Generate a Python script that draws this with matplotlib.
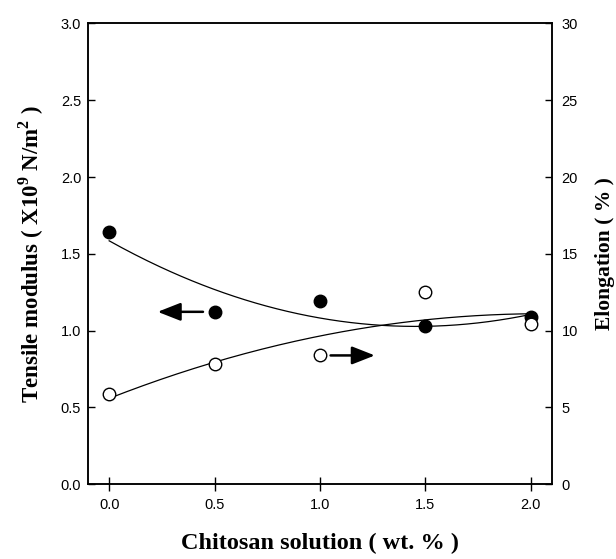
import numpy as np
import matplotlib
matplotlib.use("Agg")
import matplotlib.pyplot as plt

# chitosan concentration (wt. %)
chitosan = [0.0, 0.5, 1.0, 1.5, 2.0]
# tensile modulus, x10^9 N/m^2 (filled circles, left axis)
modulus = [1.64, 1.12, 1.19, 1.03, 1.086]
# elongation, % (open circles, right axis)
elongation = [5.86, 7.8, 8.4, 12.5, 10.4]

x_ticks = [0.0, 0.5, 1.0, 1.5, 2.0]
left_ticks = [0.0, 0.5, 1.0, 1.5, 2.0, 2.5, 3.0]
right_ticks = [0, 5, 10, 15, 20, 25, 30]

sans = "Liberation Sans"
serif = "Liberation Serif"
plt.rcParams["mathtext.fontset"] = "custom"
plt.rcParams["mathtext.bf"] = "Liberation Serif:bold"
plt.rcParams["mathtext.rm"] = "Liberation Serif:bold"

fig = plt.figure(figsize=(6.16, 5.59), dpi=100)
ax = fig.add_axes([0.143, 0.134, 0.753, 0.824])
ax2 = ax.twinx()

# quadratic trend lines
xs = np.linspace(0, 2, 200)
p_mod = np.polyfit(chitosan, modulus, 2)
p_elo = np.polyfit(chitosan, elongation, 2)
ax.plot(xs, np.polyval(p_mod, xs), color="black", lw=0.9)
ax2.plot(xs, np.polyval(p_elo, xs), color="black", lw=0.9)

ax.plot(chitosan, modulus, "o", color="black", ms=9, zorder=5)
ax2.plot(chitosan, elongation, "o", mfc="white", mec="black", mew=1.0, ms=9, zorder=5)

# arrows pointing to the axis each series belongs to
arrow = dict(arrowstyle="-|>,head_length=1.4,head_width=0.55", color="black", lw=1.8,
             shrinkA=0, shrinkB=0)
ax.annotate("", xy=(0.23, 1.122), xytext=(0.445, 1.122), arrowprops=arrow)
ax.annotate("", xy=(1.26, 0.838), xytext=(1.05, 0.838), arrowprops=arrow)

ax.set_xlim(-0.1, 2.1)
ax.set_ylim(0, 3.0)
ax2.set_ylim(0, 30)

ax.set_xticks(x_ticks)
ax.set_xticklabels([f"{v:.1f}" for v in x_ticks], family=sans, fontsize=10.5)
ax.set_yticks(left_ticks)
ax.set_yticklabels([f"{v:.1f}" for v in left_ticks], family=sans, fontsize=10.5)
ax2.set_yticks(right_ticks)
ax2.set_yticklabels([str(v) for v in right_ticks], family=sans, fontsize=10.5)

ax.tick_params(axis="x", direction="inout", length=10, width=1, pad=5)
ax.tick_params(axis="y", direction="in", length=5, width=1, pad=5)
ax2.tick_params(axis="y", direction="in", length=5, width=1, pad=7)

for a in (ax, ax2):
    for s in a.spines.values():
        s.set_linewidth(1.1)

ax.set_xlabel("Chitosan solution ( wt. % )", family=serif, fontweight="bold",
              fontsize=17.5)
ax.set_ylabel(r"Tensile modulus ( X10$^{\mathbf{9}}$ N/m$^{\mathbf{2}}$ )", family=serif,
              fontweight="bold", fontsize=16.5)
ax2.set_ylabel("Elongation ( % )", family=serif, fontweight="bold", fontsize=15.5)
ax.xaxis.set_label_coords(0.5, -0.105)
ax.yaxis.set_label_coords(-0.09, 0.5)
ax2.yaxis.set_label_coords(1.093, 0.5)

fig.savefig("out.png", dpi=100)
